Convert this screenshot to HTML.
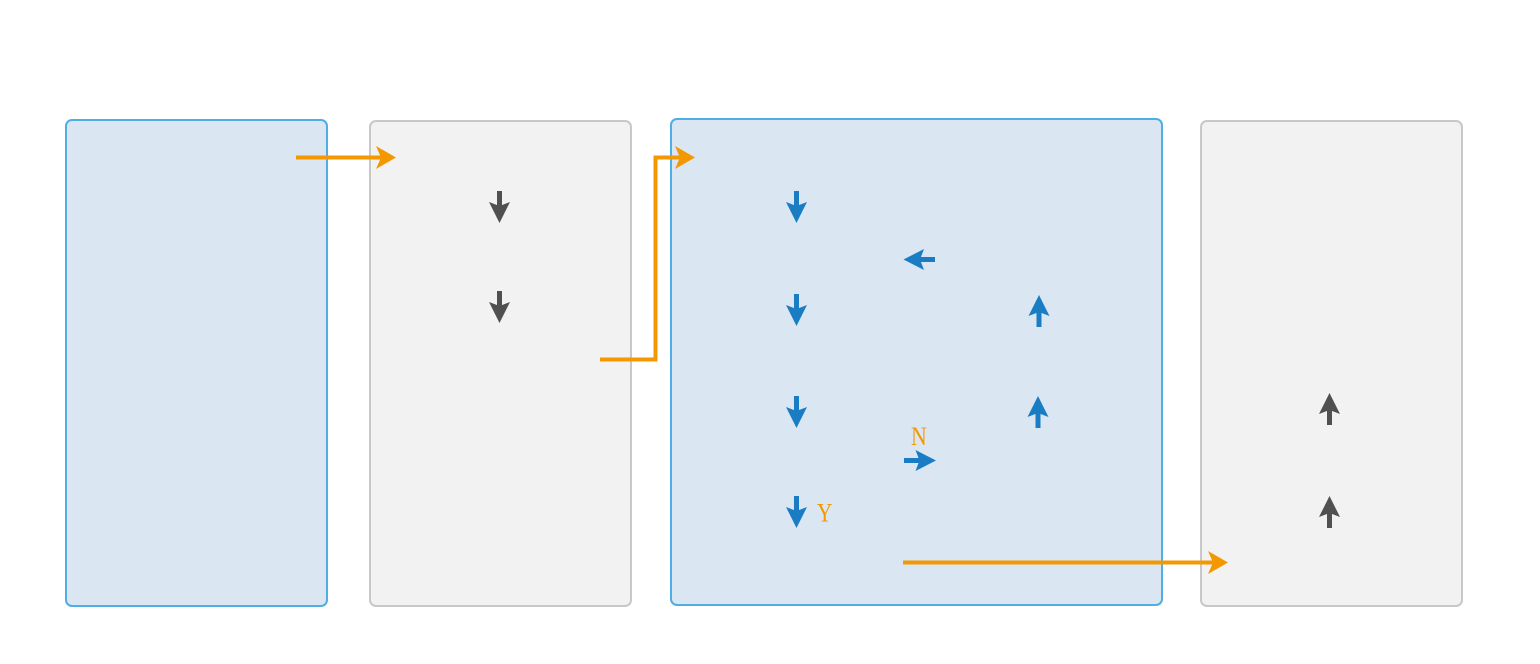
<!DOCTYPE html>
<html>
<head>
<meta charset="utf-8">
<style>
html,body{margin:0;padding:0;background:#fff;}
svg{display:block;}
</style>
</head>
<body>
<svg width="1540" height="664" viewBox="0 0 1540 664" xmlns="http://www.w3.org/2000/svg">
  <!-- boxes -->
  <rect x="66" y="120" width="261" height="486" rx="6" ry="6" fill="#dae6f2" stroke="#4eaee5" stroke-width="2"/>
  <rect x="370" y="121" width="261" height="485" rx="6" ry="6" fill="#f2f2f2" stroke="#c8c8c8" stroke-width="2"/>
  <rect x="671" y="119" width="491" height="486" rx="6" ry="6" fill="#dae6f2" stroke="#4eaee5" stroke-width="2"/>
  <rect x="1201" y="121" width="261" height="485" rx="6" ry="6" fill="#f2f2f2" stroke="#c8c8c8" stroke-width="2"/>

  <!-- orange connectors -->
  <g fill="none" stroke="#f39800" stroke-width="4">
    <polyline points="296,157.5 382,157.5"/>
    <polyline points="600,359.5 655.5,359.5 655.5,157.5 682,157.5"/>
    <polyline points="903,562.5 1214,562.5"/>
  </g>
  <g fill="#f39800">
    <polygon points="376,146 396,157.5 376,169 381,157.5"/>
    <polygon points="675,146 695,157.5 675,169 680,157.5"/>
    <polygon points="1208,551 1228,562.5 1208,574 1213,562.5"/>
  </g>

  <!-- gray down arrows box2 -->
  <g fill="#505050">
    <rect x="497" y="191" width="5" height="15"/>
    <polygon points="489,202 499.5,206 510,202 499.5,223"/>
    <rect x="497" y="291" width="5" height="15"/>
    <polygon points="489,302 499.5,306 510,302 499.5,323"/>
  </g>

  <!-- blue arrows box3 -->
  <g fill="#1a7dc4">
    <rect x="794" y="191" width="5" height="15"/>
    <polygon points="786,202 796.5,206 807,202 796.5,223"/>
    <rect x="794" y="294" width="5" height="15"/>
    <polygon points="786,305 796.5,309 807,305 796.5,326"/>
    <rect x="794" y="396" width="5" height="15"/>
    <polygon points="786,407 796.5,411 807,407 796.5,428"/>
    <rect x="794" y="496" width="5" height="15"/>
    <polygon points="786,507 796.5,511 807,507 796.5,528"/>

    <!-- left arrow -->
    <rect x="918" y="257" width="17" height="5"/>
    <polygon points="903.5,259.5 924,249 920,259.5 924,270"/>
    <!-- right arrow -->
    <rect x="904" y="458" width="17" height="5"/>
    <polygon points="936,460.5 915.5,450 919.5,460.5 915.5,471"/>

    <!-- up arrows -->
    <rect x="1036.5" y="312" width="5" height="15"/>
    <polygon points="1028.5,316 1039,312 1049.5,316 1039,295"/>
    <rect x="1035.5" y="413" width="5" height="15"/>
    <polygon points="1027.5,417 1038,413 1048.5,417 1038,396"/>
  </g>

  <!-- gray up arrows box4 -->
  <g fill="#505050">
    <rect x="1327" y="410" width="5" height="15"/>
    <polygon points="1319,414 1329.5,410 1340,414 1329.5,393"/>
    <rect x="1327" y="513" width="5" height="15"/>
    <polygon points="1319,517 1329.5,513 1340,517 1329.5,496"/>
  </g>

  <!-- labels -->
  <text x="0" y="0" font-family="Liberation Serif, serif" font-size="26" fill="#f39800" transform="translate(911,445) scale(0.84,1)">N</text>
  <text x="0" y="0" font-family="Liberation Serif, serif" font-size="26" fill="#f39800" transform="translate(817,521.5) scale(0.82,1)">Y</text>
</svg>
</body>
</html>
